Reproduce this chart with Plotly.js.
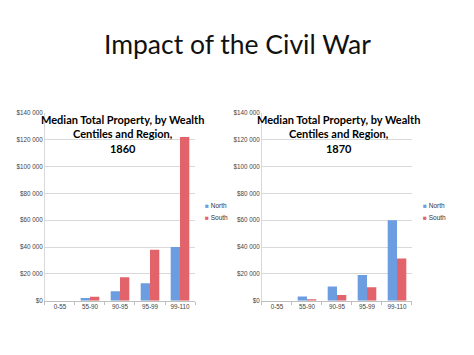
<!DOCTYPE html>
<html><head><meta charset="utf-8">
<script src="https://cdn.plot.ly/plotly-3.0.1.min.js"></script>
<style>html,body{margin:0;padding:0;background:#fff}#c{width:474px;height:355px}</style>
</head><body><div id="c"></div>
<script>
const categories = ['0-55','55-90','90-95','95-99','99-110'];
const north1860 = [0, 2000, 7000, 13000, 40000];
const south1860 = [0, 3000, 17500, 38000, 122000];
const north1870 = [0, 3200, 10500, 19200, 60000];
const south1870 = [0, 1000, 4200, 10000, 31400];
const yTicks = [0, 20000, 40000, 60000, 80000, 100000, 120000, 140000];
const yTickText = ['$0','$20 000','$40 000','$60 000','$80 000','$100 000','$120 000','$140 000'];
const seriesNames = ['North','South'];

const blue = '#6c9de0', red = '#e2636a';
const colors = [blue, red];
const bar = (name, y, c, xa, ya) => ({type:'bar', name:name, x:categories, y:y, marker:{color:c, line:{width:0}}, xaxis:xa, yaxis:ya, showlegend:false, hoverinfo:'skip'});
const traces = [
  bar(seriesNames[0], north1860, blue, 'x', 'y'), bar(seriesNames[1], south1860, red, 'x', 'y'),
  bar(seriesNames[0], north1870, blue, 'x2', 'y2'), bar(seriesNames[1], south1870, red, 'x2', 'y2')
];
const tickFont = {family:'Liberation Sans, Arial', size:6.3, color:'#444'};
const xa = (dom, anchor) => ({domain:dom, anchor:anchor, showline:true, linecolor:'#bfbfbf', linewidth:1,
  ticks:'outside', tickson:'boundaries', ticklen:3, tickcolor:'#bfbfbf', tickfont:tickFont, fixedrange:true});
const ya = (anchor) => ({domain:[0.153,0.682], anchor:anchor, range:[0,140000], tickvals:yTicks, ticktext:yTickText,
  showgrid:true, gridcolor:'#d9d9d9', gridwidth:1, showline:true, linecolor:'#d9d9d9', zeroline:false,
  ticks:'', tickfont:tickFont, fixedrange:true});
const titleFont = {family:'Lato, Open Sans, sans-serif', size:11, color:'#000', weight:'bold'};
const legFont = {family:'Liberation Sans, Arial', size:6.5, color:'#333'};
const legendItems = [];
[[203, 0], [420.5, 0]].forEach(([px]) => {
  seriesNames.forEach((n, i) => {
    legendItems.push({text:'<span style="color:' + colors[i] + '">■</span> ' + n, xref:'paper', yref:'paper',
      x:px/474, y:(355 - (205.7 + i*11.3))/355, xanchor:'left', yanchor:'middle', showarrow:false, font:legFont});
  });
});
const layout = {
  width:474, height:355, margin:{l:0,r:0,t:0,b:0}, paper_bgcolor:'#fff', plot_bgcolor:'#fff',
  barmode:'group', bargap:0.38, bargroupgap:0, showlegend:false,
  xaxis: xa([0.0949,0.4114],'y'), yaxis: ya('x'),
  xaxis2: xa([0.5527,0.8692],'y2'), yaxis2: ya('x2'),
  annotations:[
    {text:'Impact of the Civil War', xref:'paper', yref:'paper', x:0.5, y:(355-44)/355, xanchor:'center', yanchor:'middle',
     showarrow:false, font:{family:'Lato, Carlito, sans-serif', size:26.5, color:'#111'}},
    {text:'Median Total Property, by Wealth<br>Centiles and Region,<br>1860', xref:'paper', yref:'paper', x:122/474, y:(355-111)/355,
     xanchor:'center', yanchor:'top', showarrow:false, font:titleFont},
    {text:'Median Total Property, by Wealth<br>Centiles and Region,<br>1870', xref:'paper', yref:'paper', x:338/474, y:(355-111)/355,
     xanchor:'center', yanchor:'top', showarrow:false, font:titleFont}
  ].concat(legendItems)
};
Plotly.newPlot('c', traces, layout, {displayModeBar:false, staticPlot:true});
</script></body></html>
